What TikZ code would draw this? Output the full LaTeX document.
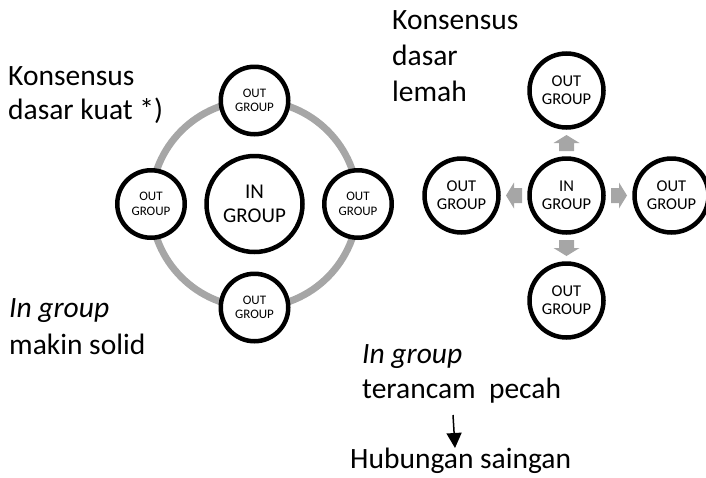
\documentclass[tikz,border=0pt]{standalone}
\usepackage{fontspec}
\setmainfont{Carlito}
\usetikzlibrary{arrows.meta,calc}

\definecolor{ringgray}{HTML}{A6A6A6}
\tikzset{
  grp/.style={circle,draw,line width=4.5pt,fill=white,inner sep=0pt,align=center},
  outL/.style={grp,minimum size=67.5pt,font=\fontsize{13}{14.5}\selectfont},
  inL/.style={grp,minimum size=96pt,font=\fontsize{21}{24}\selectfont},
  grpR/.style={grp,minimum size=74pt,font=\fontsize{16.5}{18}\selectfont},
  lbl/.style={anchor=base west,inner sep=0pt,font=\fontsize{29.5}{35}\selectfont},
  pointer/.style={line width=1.5pt,-{Triangle[length=15pt,width=15pt]}}
}

\begin{document}
\begin{tikzpicture}[x=1pt,y=-1pt]
\useasboundingbox (0,0) rectangle (706,477);

% kiri: konsensus kuat
\node[inL] (inL) at (254.5,204) {IN\\GROUP};
\draw[ringgray,line width=7pt] (inL) circle[radius=103.5];
\foreach \a/\n in {270/t,90/b,0/r,180/l}
  \node[outL] (out\n L) at ($(inL)+(\a:103.5)$) {OUT\\GROUP};

% kanan: konsensus lemah
\node[grpR] (inR) at (566.5,195.5) {IN\\GROUP};
\foreach \a/\n in {270/t,90/b,0/r,180/l}
  \node[grpR] (out\n R) at ($(inR)+(\a:105)$) {OUT\\GROUP};
\foreach \a/\n in {270/t,90/b,0/r,180/l}
  \fill[ringgray,shift={($(inR)!0.5!(out\n R)$)},rotate=-\a]
    (-8,-7.5) -- (0,-7.5) -- (0,-13) -- (8,0) -- (0,13) -- (0,7.5) -- (-8,7.5) -- cycle;

% teks
\node[lbl] (kuat1) at (8,85) {Konsensus};
\node[lbl] (kuat2) at (8,119) {dasar kuat *)};
\node[lbl] (lemah1) at (392,29) {Konsensus};
\node[lbl] (lemah2) at (392,65) {dasar};
\node[lbl] (lemah3) at (392,101) {lemah};
\node[lbl] (solid1) at (9,317) {\itshape In group};
\node[lbl] (solid2) at (9,354) {makin solid};
\node[lbl] (pecah1) at (362,363) {\itshape In group};
\node[lbl] (pecah2) at (362,398) {terancam\ \ pecah};
\node[lbl] (saingan) at (350,468) {Hubungan saingan};

\coordinate (tail) at (453,415);
\draw[pointer] (tail) -- (455,448);
\end{tikzpicture}
\end{document}
